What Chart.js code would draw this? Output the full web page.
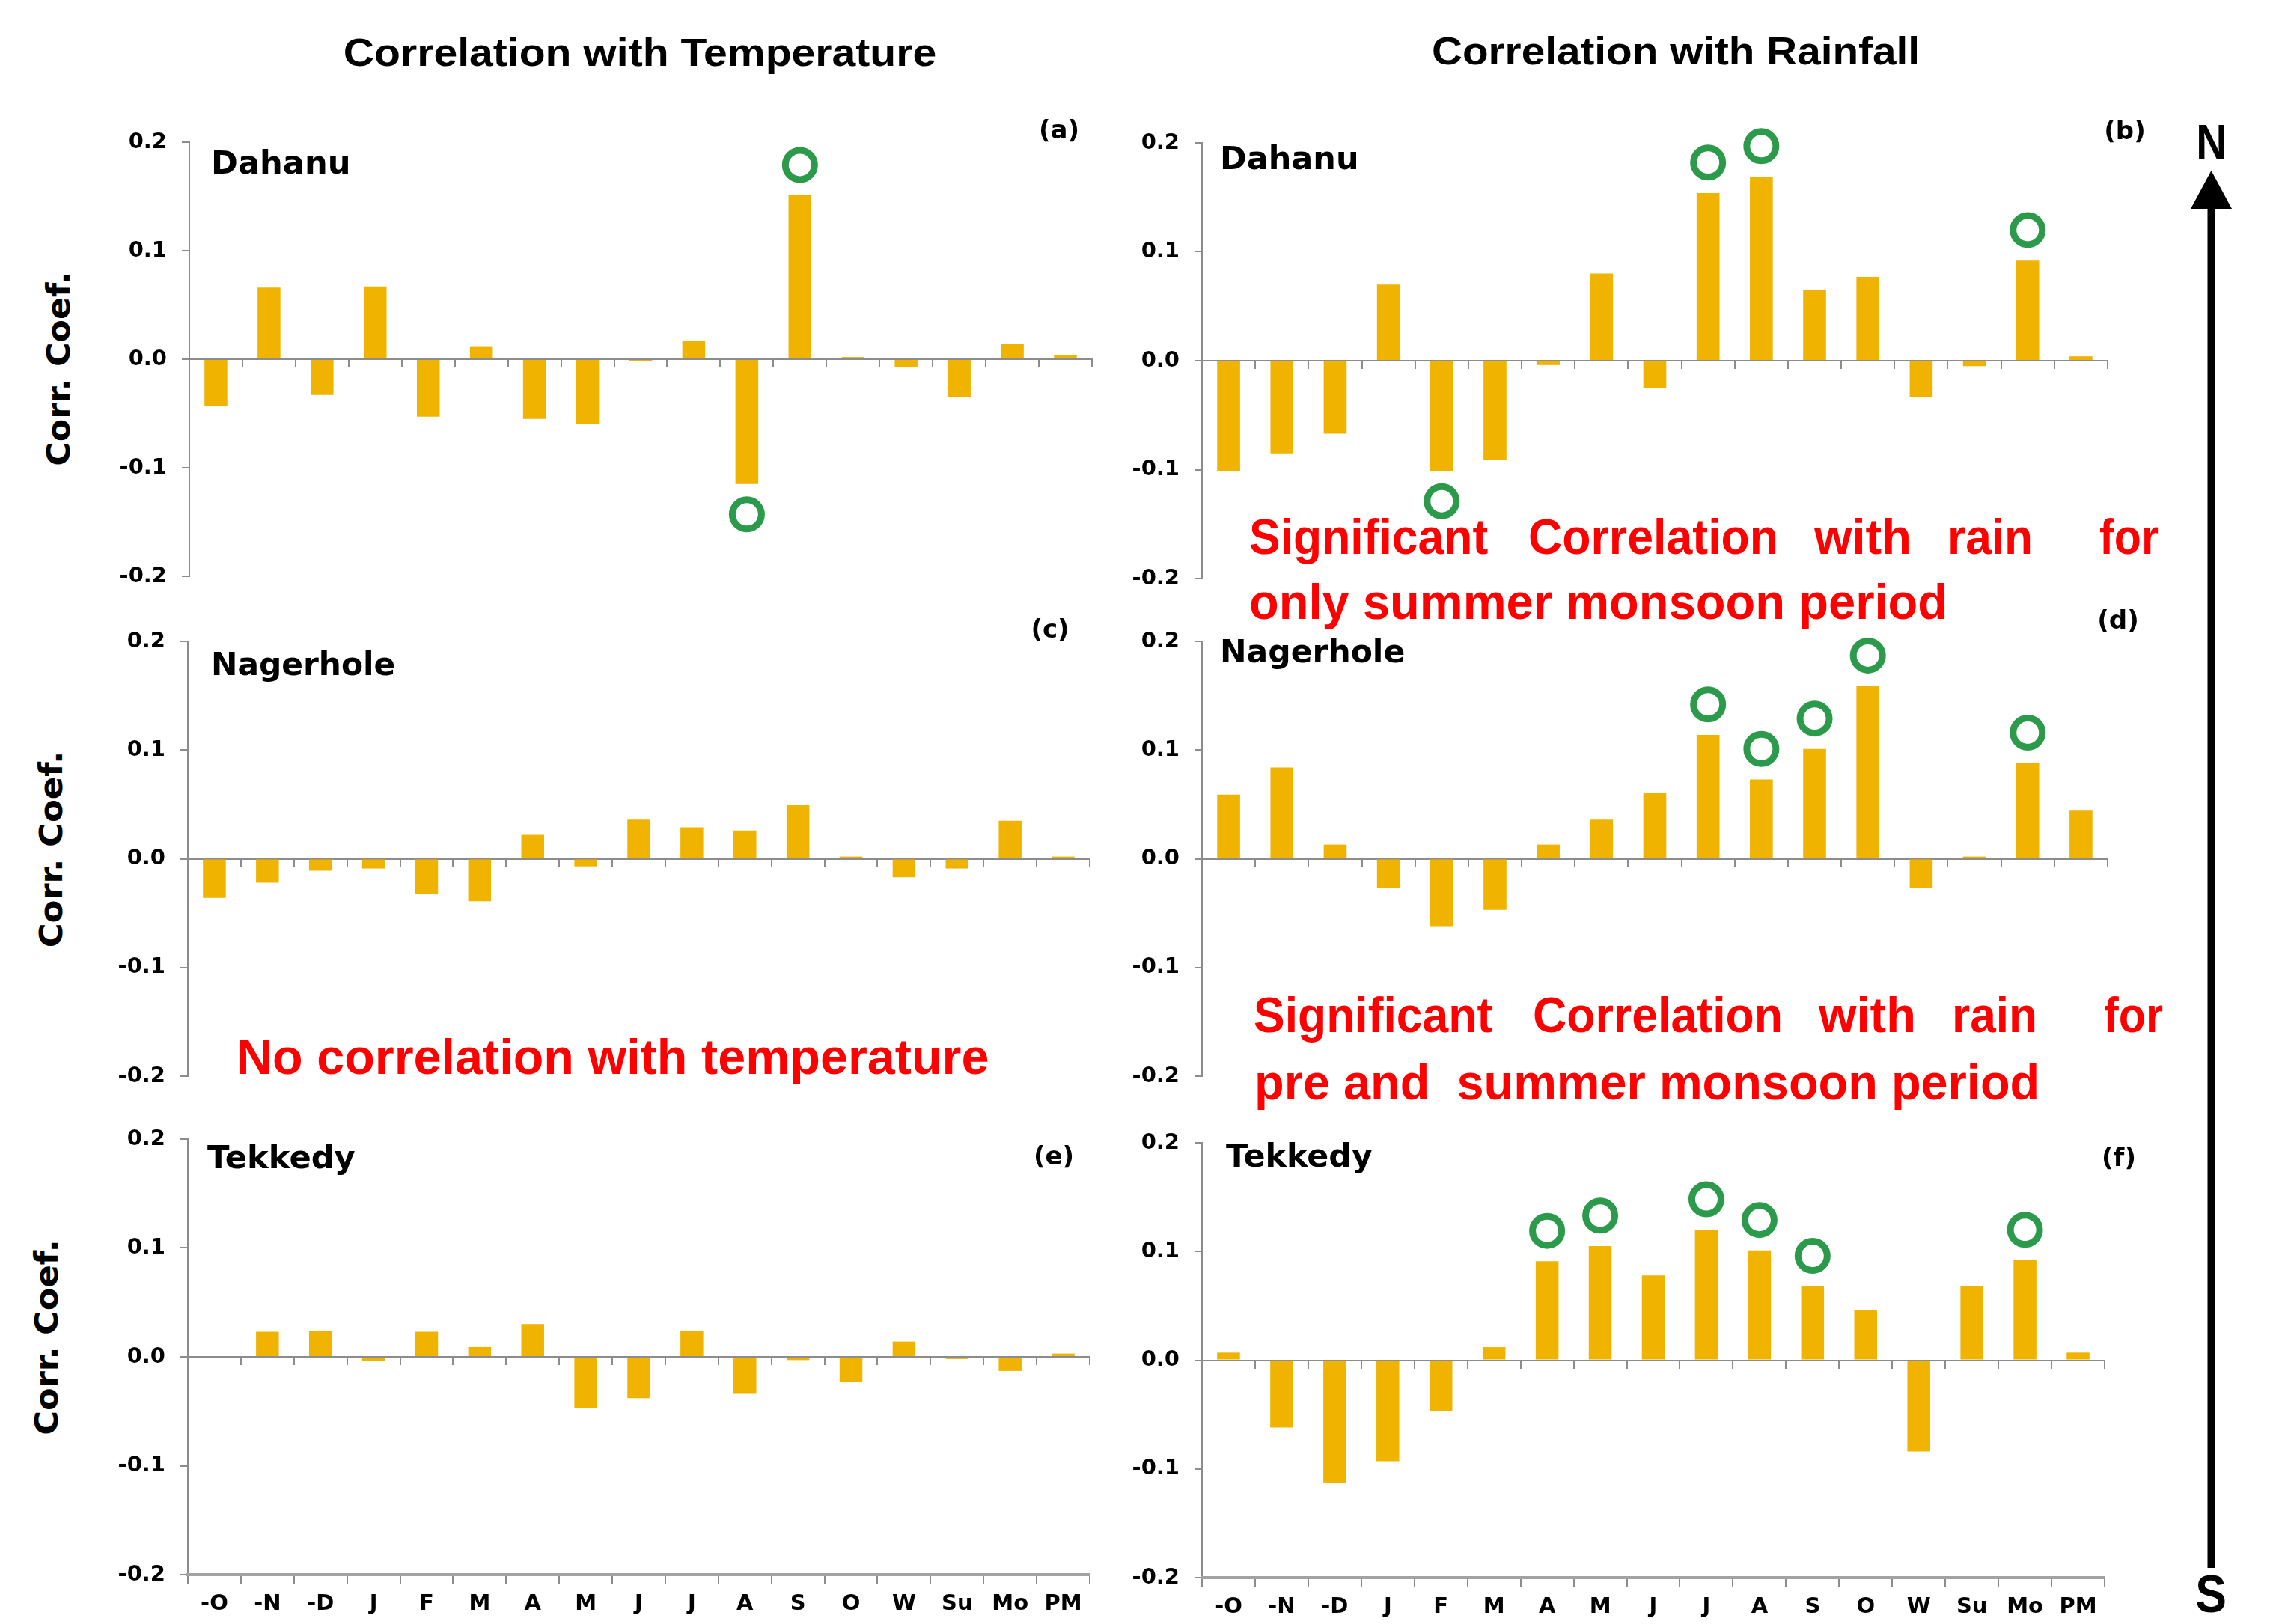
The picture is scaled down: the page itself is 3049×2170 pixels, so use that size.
<!DOCTYPE html>
<html>
<head>
<meta charset="utf-8">
<script src="https://cdn.jsdelivr.net/npm/chart.js@4.4.1/dist/chart.umd.min.js"></script>
<style>
  html, body { margin: 0; padding: 0; background: #fff; }
  #page { position: relative; width: 3049px; height: 2170px; overflow: hidden; background: #fff; }
  #page canvas { position: absolute; }
  .txt { position: absolute; white-space: pre; }
</style>
</head>
<body>
<div id="page">
  <svg style="position:absolute;left:0;top:0" width="3049" height="2170">
    <polygon points="2954.5,228 2927,279 2982,279" fill="#000"/>
    <rect x="2949.5" y="276" width="10" height="1819" fill="#000"/>
  </svg>
</div>
<script>
// months (previous Oct-Dec, Jan-Oct) then seasons: winter, summer, monsoon, post-monsoon
const months = ["-O", "-N", "-D", "J", "F", "M", "A", "M", "J", "J", "A", "S", "O", "W", "Su", "Mo", "PM"];

const dahanuTemp = [-0.043, 0.066, -0.033, 0.067, -0.053, 0.012, -0.055, -0.060, -0.002, 0.017, -0.115, 0.151, 0.002, -0.007, -0.035, 0.014, 0.004];
const dahanuRain = [-0.101, -0.085, -0.067, 0.070, -0.101, -0.091, -0.004, 0.080, -0.025, 0.154, 0.169, 0.065, 0.077, -0.033, -0.005, 0.092, 0.004];
const nagerholeTemp = [-0.036, -0.022, -0.011, -0.009, -0.032, -0.039, 0.022, -0.007, 0.036, 0.029, 0.026, 0.050, 0.002, -0.017, -0.009, 0.035, 0.002];
const nagerholeRain = [0.059, 0.084, 0.013, -0.027, -0.062, -0.047, 0.013, 0.036, 0.061, 0.114, 0.073, 0.101, 0.159, -0.027, 0.002, 0.088, 0.045];
const tekkedyTemp = [0.000, 0.023, 0.024, -0.004, 0.023, 0.009, 0.030, -0.047, -0.038, 0.024, -0.034, -0.003, -0.023, 0.014, -0.002, -0.013, 0.003];
const tekkedyRain = [0.007, -0.062, -0.113, -0.093, -0.047, 0.012, 0.091, 0.105, 0.078, 0.120, 0.101, 0.068, 0.046, -0.084, 0.068, 0.092, 0.007];

// indexes of significant correlations (green rings)
const dahanuTempSig = [10, 11];
const dahanuRainSig = [4, 9, 10, 15];
const nagerholeTempSig = [];
const nagerholeRainSig = [9, 10, 11, 12, 15];
const tekkedyTempSig = [];
const tekkedyRainSig = [6, 7, 9, 10, 11, 15];

const yTicks = [-0.2, -0.1, 0.0, 0.1, 0.2];

const barColour = "#EFB300";
const ringGreen = "#2B9A4B";
const axisGrey = "#8c8c8c";
const ringGap = 0.028;
const tickFont = { family: "DejaVu Sans", size: 29, weight: "bold" };

const page = document.getElementById("page");

const panels = [
  { values: dahanuTemp, sig: dahanuTempSig, area: { l: 253, t: 190, r: 1459, b: 770 }, bottom: false },
  { values: dahanuRain, sig: dahanuRainSig, area: { l: 1606, t: 191, r: 2816, b: 773 }, bottom: false },
  { values: nagerholeTemp, sig: nagerholeTempSig, area: { l: 251, t: 857, r: 1456, b: 1438 }, bottom: false },
  { values: nagerholeRain, sig: nagerholeRainSig, area: { l: 1606, t: 857, r: 2816, b: 1438 }, bottom: false },
  { values: tekkedyTemp, sig: tekkedyTempSig, area: { l: 251, t: 1522, r: 1456, b: 2104 }, bottom: true },
  { values: tekkedyRain, sig: tekkedyRainSig, area: { l: 1606, t: 1527, r: 2812, b: 2108 }, bottom: true }
];

function makePanel(p) {
  const yAxisW = 150, padTop = 40, padRight = 40;
  const padBottom = p.bottom ? 20 : 40;
  const xAxisH = p.bottom ? 60 : 0;
  const w = p.area.r - p.area.l + yAxisW + padRight;
  const h = p.area.b - p.area.t + padTop + padBottom + xAxisH;

  const cv = document.createElement("canvas");
  cv.width = w;
  cv.height = h;
  cv.style.width = w + "px";
  cv.style.height = h + "px";
  cv.style.left = (p.area.l - yAxisW) + "px";
  cv.style.top = (p.area.t - padTop) + "px";
  page.appendChild(cv);

  const rings = p.values.map((v, i) => p.sig.includes(i) ? v + Math.sign(v) * ringGap : null);

  const scales = {
    x: {
      type: "category",
      axis: "x",
      position: { y: 0 },
      offset: true,
      grid: { display: true, drawOnChartArea: false, drawTicks: true, tickLength: 10, color: axisGrey, lineWidth: 2, offset: true },
      border: { display: true, color: axisGrey, width: 2 },
      ticks: { display: false }
    },
    y: {
      type: "linear",
      position: "left",
      min: yTicks[0],
      max: yTicks[yTicks.length - 1],
      afterFit: function (scale) { scale.width = yAxisW; },
      afterBuildTicks: function (scale) { scale.ticks = yTicks.map(v => ({ value: v })); },
      ticks: {
        font: tickFont,
        color: "#000",
        padding: 20,
        callback: function (value) { return Number(value).toFixed(1); }
      },
      grid: { display: true, drawOnChartArea: false, drawTicks: true, tickLength: 10, color: axisGrey, lineWidth: 2 },
      border: { display: true, color: axisGrey, width: 2 }
    }
  };

  if (p.bottom) {
    scales.xb = {
      type: "category",
      axis: "x",
      position: "bottom",
      offset: true,
      afterFit: function (scale) { scale.height = xAxisH; },
      grid: { display: true, drawOnChartArea: false, drawTicks: true, tickLength: 12, color: axisGrey, lineWidth: 2, offset: true },
      border: { display: true, color: "#a3a3a3", width: 4 },
      ticks: { font: tickFont, color: "#000", padding: 10, maxRotation: 0, minRotation: 0, autoSkip: false }
    };
  }

  const config = {
    type: "bar",
    data: {
      labels: months,
      datasets: [
        {
          type: "line",
          xAxisID: "x",
          yAxisID: "y",
          data: rings,
          showLine: false,
          pointStyle: "circle",
          pointRadius: 19.5,
          pointHoverRadius: 19.5,
          pointBorderWidth: 9,
          pointBorderColor: ringGreen,
          pointBackgroundColor: "rgba(0,0,0,0)",
          clip: false,
          order: 0
        },
        {
          type: "bar",
          xAxisID: "x",
          yAxisID: "y",
          data: p.values,
          backgroundColor: barColour,
          borderWidth: 0,
          categoryPercentage: 1,
          barPercentage: 0.43,
          order: 1
        }
      ]
    },
    options: {
      responsive: false,
      animation: false,
      devicePixelRatio: 1,
      layout: { padding: { left: 0, top: padTop, right: padRight, bottom: padBottom } },
      scales: scales,
      plugins: {
        legend: { display: false },
        tooltip: { enabled: false }
      }
    }
  };

  return new Chart(cv.getContext("2d"), config);
}

panels.forEach(makePanel);

// text placed on top of the charts; width stretches the glyphs to match the figure
function addText(str, o) {
  const el = document.createElement("div");
  el.className = "txt";
  el.textContent = str;
  el.style.font = (o.weight || "bold") + " " + o.size + "px " + o.family;
  el.style.lineHeight = "1";
  el.style.color = o.color || "#000";
  page.appendChild(el);
  const sx = o.width ? o.width / el.offsetWidth : 1;
  el.style.top = o.cy + "px";
  if (o.rotate) {
    el.style.left = o.cx + "px";
    el.style.transform = "translate(-50%,-50%) rotate(-90deg) scaleX(" + sx + ")";
  } else if (o.left !== undefined) {
    el.style.left = o.left + "px";
    el.style.transformOrigin = "0 50%";
    el.style.transform = "translateY(-50%) scaleX(" + sx + ")";
  } else {
    el.style.left = o.cx + "px";
    el.style.transform = "translate(-50%,-50%) scaleX(" + sx + ")";
  }
  return el;
}

const sansBold = '"Liberation Sans", Arial, sans-serif';
const verdanaLike = '"DejaVu Sans", Verdana, sans-serif';
const redFont = '"Liberation Sans Narrow", "Liberation Sans", sans-serif';
const red = "#FF0000";

addText("Correlation with Temperature", { cx: 855, cy: 70, size: 52, family: sansBold, width: 792 });
addText("Correlation with Rainfall", { cx: 2239, cy: 68, size: 52, family: sansBold, width: 652 });

addText("Dahanu", { left: 282, cy: 217, size: 43, family: verdanaLike, width: 187 });
addText("Dahanu", { left: 1630, cy: 211, size: 43, family: verdanaLike, width: 186 });
addText("Nagerhole", { left: 282, cy: 887, size: 43, family: verdanaLike, width: 246 });
addText("Nagerhole", { left: 1630, cy: 870, size: 43, family: verdanaLike, width: 247 });
addText("Tekkedy", { left: 277, cy: 1546, size: 43, family: verdanaLike, width: 198 });
addText("Tekkedy", { left: 1638, cy: 1544, size: 43, family: verdanaLike, width: 196 });

addText("(a)", { cx: 1415, cy: 173, size: 34, family: verdanaLike });
addText("(b)", { cx: 2839, cy: 174, size: 34, family: verdanaLike });
addText("(c)", { cx: 1403, cy: 840, size: 34, family: verdanaLike });
addText("(d)", { cx: 2830, cy: 828, size: 34, family: verdanaLike });
addText("(e)", { cx: 1408, cy: 1544, size: 34, family: verdanaLike });
addText("(f)", { cx: 2831, cy: 1546, size: 34, family: verdanaLike });

addText("Corr. Coef.", { cx: 78, cy: 493, size: 43, family: verdanaLike, width: 260, rotate: true });
addText("Corr. Coef.", { cx: 68, cy: 1135, size: 43, family: verdanaLike, width: 263, rotate: true });
addText("Corr. Coef.", { cx: 62, cy: 1787, size: 43, family: verdanaLike, width: 262, rotate: true });

addText("N", { cx: 2955, cy: 189, size: 67, family: sansBold, width: 41 });
addText("S", { cx: 2954, cy: 2130, size: 70, family: sansBold, width: 42 });

// red notes
const sigWords = [["Significant", 0, 319], ["Correlation", 373, 334], ["with", 755, 130], ["rain", 933, 114], ["for", 1136, 79]];
sigWords.forEach(([wd, dx, ww]) => {
  addText(wd, { left: 1669 + dx, cy: 717, size: 66, family: redFont, width: ww, color: red });
  addText(wd, { left: 1675 + dx, cy: 1356, size: 66, family: redFont, width: ww, color: red });
});
addText("only summer monsoon period", { left: 1669, cy: 804, size: 66, family: redFont, width: 933, color: red });
addText("pre and  summer monsoon period", { left: 1676, cy: 1446, size: 66, family: redFont, width: 1049, color: red });
addText("No correlation with temperature", { left: 316, cy: 1412, size: 66, family: redFont, width: 1006, color: red });
</script>
</body>
</html>
